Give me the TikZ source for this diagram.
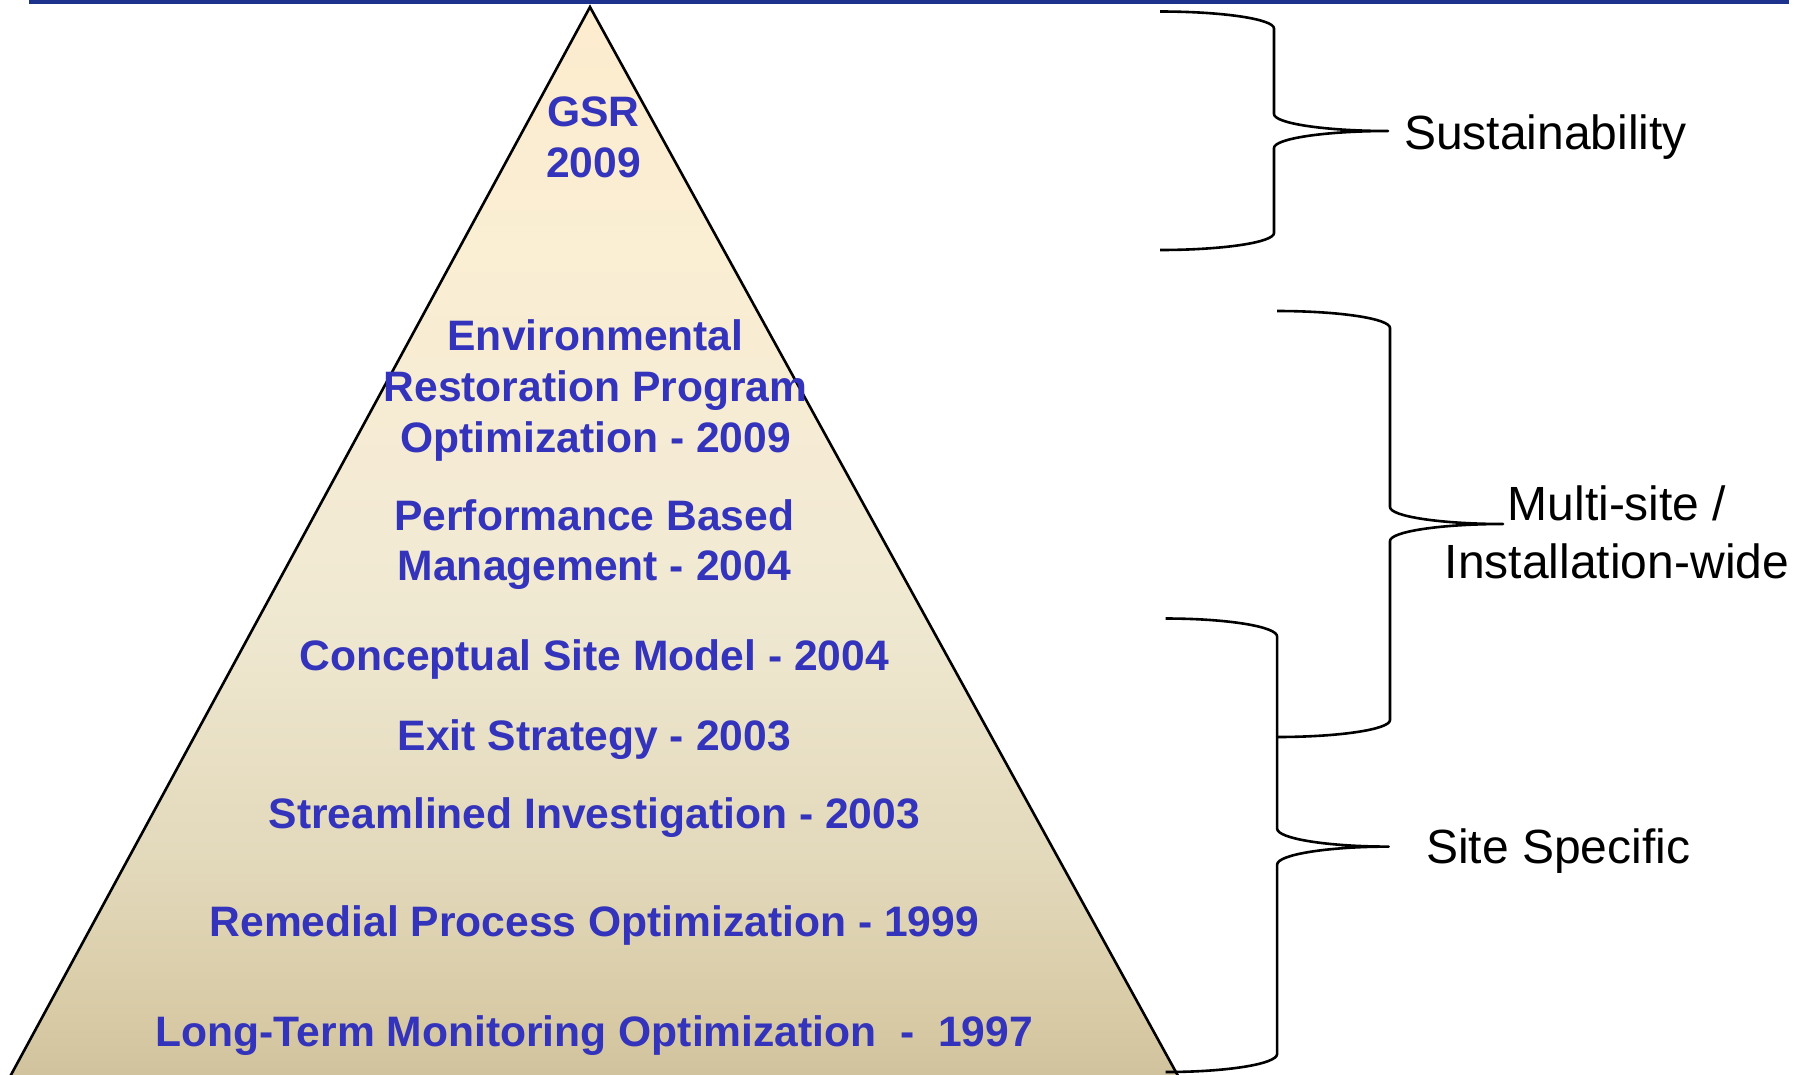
\documentclass[tikz,border=0pt]{standalone}
\usepackage{fontspec}
\setmainfont{Liberation Sans}
\definecolor{topline}{RGB}{28,50,140}
\definecolor{txtblue}{RGB}{51,51,187}
\definecolor{pyrA}{RGB}{253,236,206}
\definecolor{pyrB}{RGB}{250,238,211}
\definecolor{pyrC}{RGB}{245,235,212}
\definecolor{pyrD}{RGB}{240,233,210}
\definecolor{pyrE}{RGB}{226,216,186}
\definecolor{pyrF}{RGB}{216,203,166}
\definecolor{pyrG}{RGB}{208,194,156}
\pgfdeclareverticalshading{pyrshade}{100bp}{color(0bp)=(pyrG); color(25bp)=(pyrG); color(28.26bp)=(pyrF); color(34.78bp)=(pyrE); color(47.13bp)=(pyrD); color(53.66bp)=(pyrC); color(63.68bp)=(pyrB); color(75bp)=(pyrA); color(100bp)=(pyrA)}
\newcommand{\mybrace}[6]{% x0, ytop, ytip, ybot, half width, arc height
\draw[bracestyle] (#1,#2) .. controls ({#1+0.5523*#5},#2) and ({#1+#5},{#2+#6-0.5523*#6}) .. ({#1+#5},{#2+#6})
 -- ({#1+#5},{#3-#6}) .. controls ({#1+#5},{#3-#6+0.5523*#6}) and ({#1+2*#5-0.5523*#5},#3) .. ({#1+2*#5},#3)
 .. controls ({#1+2*#5-0.5523*#5},#3) and ({#1+#5},{#3+#6-0.5523*#6}) .. ({#1+#5},{#3+#6})
 -- ({#1+#5},{#4-#6}) .. controls ({#1+#5},{#4-#6+0.5523*#6}) and ({#1+0.5523*#5},#4) .. (#1,#4);}
\begin{document}
\begin{tikzpicture}[x=1pt,y=-1pt,
  lvl/.style={font=\fontsize{42.6}{51}\selectfont\bfseries, text=txtblue, inner sep=0pt, text height=30.5pt, text depth=0pt, anchor=center},
  side/.style={font=\fontsize{48}{57.6}\selectfont, text=black, inner sep=0pt, text height=34.4pt, text depth=0pt},
  bracestyle/.style={draw=black, line width=2.6pt, line join=round},
  outline/.style={draw=black, line width=2.6pt, line join=miter}
]
\useasboundingbox[fill=white] (0,0) rectangle (1806,1074);
% top rule
\draw[topline, line width=4pt] (29,2) -- (1789,2);
% pyramid
\coordinate (apex) at (590,7);
\coordinate (bl) at (8.2,1080);
\coordinate (br) at (1180.3,1080);
\shade[shading=pyrshade] (apex) -- (br) -- (bl) -- cycle;
\draw[outline] (apex) -- (br) -- (bl) -- cycle;
% levels
\node[lvl] (gsr) at (593.5,111.7) {GSR};
\node[lvl] (gsryr) at (593.5,162.4) {2009};
\node[lvl] (erp1) at (595.5,335.2) {Environmental};
\node[lvl] (erp2) at (595.5,385.8) {Restoration Program};
\node[lvl] (erp3) at (595.5,437.7) {Optimization - 2009};
\node[lvl] (pbm1) at (594.3,514.9) {Performance Based};
\node[lvl] (pbm2) at (594.3,565.5) {Management - 2004};
\node[lvl] (csm) at (594.3,655.4) {Conceptual Site Model - 2004};
\node[lvl] (exit) at (594.3,734.9) {Exit Strategy - 2003};
\node[lvl] (si) at (594.3,813.2) {Streamlined Investigation - 2003};
\node[lvl] (rpo) at (594.3,921.4) {Remedial Process Optimization - 1999};
\node[lvl] (ltm) at (594.3,1030.9) {Long-Term Monitoring Optimization\ \ -\ \ 1997};
% braces
\mybrace{1160}{11.5}{131}{250}{114}{17}
\mybrace{1277}{311}{524}{737}{113}{17}
\mybrace{1165.6}{618.5}{846.6}{1072}{111.5}{18}
% side labels
\node[side, anchor=west] (sust) at (1404,132.5) {Sustainability};
\node[side] (multi1) at (1617,503) {Multi-site /};
\node[side] (multi2) at (1617,561) {Installation-wide};
\node[side, anchor=west] (site) at (1426,846.6) {Site Specific};
\end{tikzpicture}
\end{document}
